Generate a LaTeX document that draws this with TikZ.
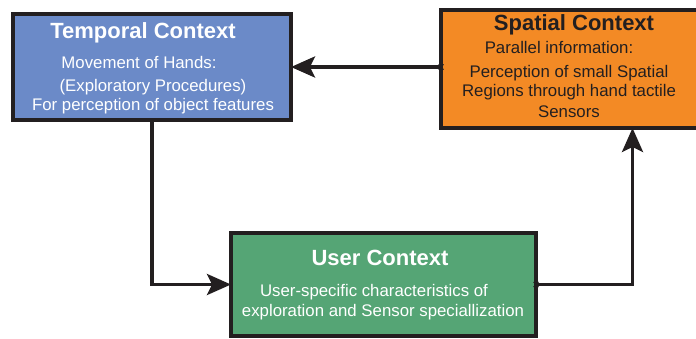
\documentclass[tikz,border=0pt]{standalone}
\usepackage{fontspec}
\setmainfont{Liberation Sans}
\usetikzlibrary{arrows.meta,positioning}
\definecolor{temporalblue}{HTML}{6B8AC8}
\definecolor{spatialorange}{HTML}{F38A25}
\definecolor{usergreen}{HTML}{55A575}
\definecolor{linedark}{HTML}{231F20}
\begin{document}
\begin{tikzpicture}[x=1pt,y=-1pt,>={Stealth[length=24pt,width=21pt,inset=5pt]}]
	\tikzset{ctxbox/.style={draw=linedark,line width=3.5pt,inner sep=0pt,outer sep=0pt},
		ctxtitle/.style={font=\fontsize{22}{24}\selectfont\bfseries,inner sep=0pt},
		ctxtext/.style={font=\fontsize{16.8}{18}\selectfont,inner sep=0pt},
		link/.style={draw=linedark,line width=3.5pt},
		crossmark/.style={draw=linedark,line width=0.9pt}}
	\useasboundingbox (0,0) rectangle (696,338);
	% boxes
	\node[ctxbox,fill=temporalblue,minimum width=278pt,minimum height=106pt] (temporal) at (152,67) {};
	\node[ctxbox,fill=spatialorange,minimum width=279pt,minimum height=118pt] (spatial) at (580.5,69) {};
	\node[ctxbox,fill=usergreen,minimum width=305pt,minimum height=103pt] (user) at (383.5,284.5) {};
	% temporal texts
	\node[ctxtitle,white] (temporaltitle) at (143,33) {Temporal Context};
	\node[ctxtext,white] (temporalone) at (139,62) {Movement of Hands:};
	\node[ctxtext,white] (temporaltwo) at (153,87) {(Exploratory Procedures)};
	\node[ctxtext,white] (temporalthree) at (153,106) {For perception of object features};
	% spatial texts
	\node[ctxtitle,linedark] (spatialtitle) at (574,25) {Spatial Context};
	\node[ctxtext,linedark] (spatialone) at (559,47) {Parallel information:};
	\node[ctxtext,linedark] (spatialtwo) at (569,73) {Perception of small Spatial};
	\node[ctxtext,linedark] (spatialthree) at (569,92) {Regions through hand tactile};
	\node[ctxtext,linedark] (spatialfour) at (569,112) {Sensors};
	% user texts
	\node[ctxtitle,white] (usertitle) at (380,258) {User Context};
	\node[ctxtext,white] (userone) at (374,292) {User-specific characteristics of};
	\node[ctxtext,white] (usertwo) at (383,312) {exploration and Sensor speciallization};
	% connectors
	\coordinate (spatialout) at (spatial.west |- temporal.east);
	\coordinate (spatialin) at ([xshift=52pt]spatial.south);
	\draw[link,->] (spatialout) -- (temporal.east);
	\draw[link,->] (temporal.south) |- (user.west);
	\draw[link,->] (user.east) -| (spatialin);
	% small crosses at the line starts
	\draw[crossmark] ([shift={(-2.5,-2.5)}]spatialout) -- ++(5,5) ([shift={(-2.5,2.5)}]spatialout) -- ++(5,-5);
	\draw[crossmark] ([shift={(-2.5,-2.5)}]user.east) -- ++(5,5) ([shift={(-2.5,2.5)}]user.east) -- ++(5,-5);
\end{tikzpicture}
\end{document}
